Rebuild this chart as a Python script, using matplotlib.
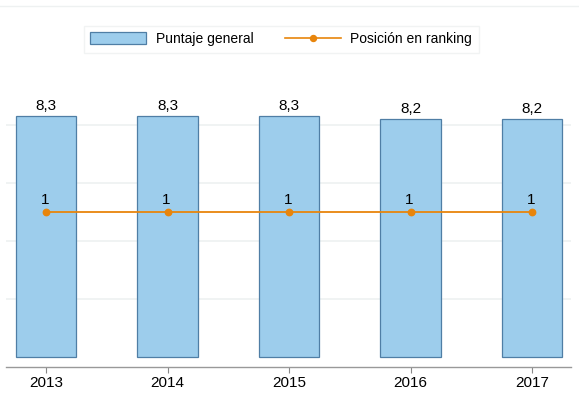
import matplotlib
matplotlib.use('Agg')
import matplotlib.pyplot as plt
from matplotlib.lines import Line2D

plt.rcParams['font.family'] = ['Liberation Sans', 'DejaVu Sans']

# Chart data
years = ['2013', '2014', '2015', '2016', '2017']
puntaje = [8.3, 8.3, 8.3, 8.2, 8.2]
ranking = [1, 1, 1, 1, 1]

bar_color = '#9dcdec'
edge_color = '#4f7ea5'
line_color = '#e8850c'

W, H = 579, 418
fig = plt.figure(figsize=(W / 100, H / 100), dpi=100)
# axes box in pixels: left 6, right 571, top 95, bottom 367
ax = fig.add_axes([6 / W, 1 - 367 / H, 565 / W, 272 / H])

x = list(range(len(years)))
ax.bar(x, puntaje, width=0.5, color=bar_color, edgecolor=edge_color,
       linewidth=0.9, zorder=2)
ax.set_xlim(-0.33, 4.32)
ax.set_ylim(-0.345, 9.03)
ax.set_yticks([2, 4, 6, 8])
ax.yaxis.grid(True, color='#eef1f1', linewidth=1.2, zorder=0)
ax.set_xticks(x)
ax.set_xticklabels(years, fontsize=11)
for s in ['top', 'right', 'left']:
    ax.spines[s].set_visible(False)
ax.spines['bottom'].set_color('#999999')
ax.spines['bottom'].set_linewidth(1.0)

for xi, v in zip(x, puntaje):
    ax.text(xi, v + 0.12, f'{v:.1f}'.replace('.', ','), ha='center', va='bottom',
            fontsize=11)

# ranking on a secondary scale
ax2 = ax.twinx()
ax2.set_ylim(0, 1 / 0.57)
ax2.plot(x, ranking, color=line_color, marker='o', markersize=4.6, linewidth=1.3,
         zorder=3)
for xi, r in zip(x, ranking):
    ax2.text(xi - 0.012, r + 0.035, str(r), ha='center', va='bottom', fontsize=11)
ax2.axis('off')

# twinx turns the left ticks back on
ax.tick_params(axis='y', left=False, right=False, labelleft=False)
ax.tick_params(axis='x', length=4, width=0.8, color='#888888', pad=2.5)

# legend
handles = [
    plt.Rectangle((0, 0), 1, 1, facecolor=bar_color, edgecolor=edge_color, linewidth=0.9),
    Line2D([0], [0], color=line_color, marker='o', markersize=4.3, linewidth=1.2),
]
leg = fig.legend(handles, ['Puntaje general', 'Posición en ranking'], ncol=2,
                 loc='upper left', bbox_to_anchor=(84 / W, 1 - 26 / H), fontsize=10,
                 frameon=True, fancybox=False, handlelength=4.0, handleheight=0.95,
                 handletextpad=0.7, columnspacing=2.3, borderpad=0.45,
                 borderaxespad=0)
leg.get_frame().set_edgecolor('#eef1f1')
leg.get_frame().set_linewidth(1.0)

# faint line at top
fig.add_artist(Line2D([0, 1], [1 - 6 / H, 1 - 6 / H], color='#eef1f1', linewidth=1))

fig.savefig('out.png', dpi=100)
